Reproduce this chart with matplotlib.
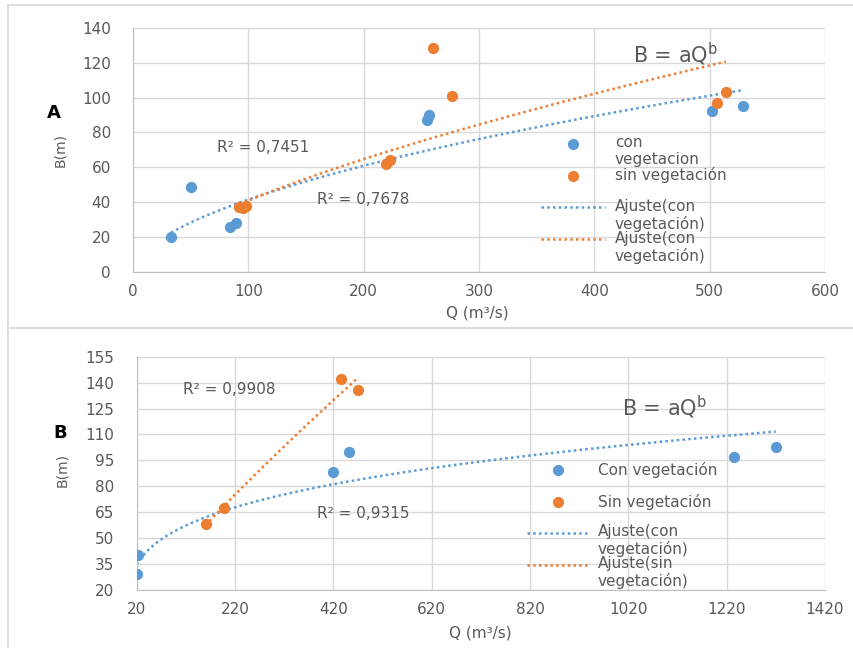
import numpy as np
import matplotlib
matplotlib.use("Agg")
import matplotlib.pyplot as plt
from matplotlib.lines import Line2D


BLUE = "#5B9BD5"
ORANGE = "#ED7D31"
GRID = "#D9D9D9"
TEXT = "#595959"
W, H = 854, 648

# panel A data (Q in m3/s, B in m)
a_con_q = [33, 50, 84, 89, 255, 257, 502, 529]
a_con_b = [20, 48.5, 25.5, 28, 87, 90, 92.5, 95]
a_sin_q = [92, 95, 98, 219, 223, 260, 277, 506, 514]
a_sin_b = [37, 36.5, 37.5, 62, 64, 128.5, 101, 97, 103.5]
a_xticks = [0, 100, 200, 300, 400, 500, 600]
a_yticks = [0, 20, 40, 60, 80, 100, 120, 140]
a_r2 = ["R² = 0,7451", "R² = 0,7678"]
a_labels = ["con\nvegetacion", "sin vegetación",
            "Ajuste(con\nvegetación)", "Ajuste(con\nvegetación)"]

# panel B data
b_con_q = [23, 20, 420, 452, 1235, 1320]
b_con_b = [40, 29.5, 88, 100, 97, 103]
b_sin_q = [160, 198, 435, 470]
b_sin_b = [58, 67.5, 142, 135.5]
b_xticks = [20, 220, 420, 620, 820, 1020, 1220, 1420]
b_yticks = [20, 35, 50, 65, 80, 95, 110, 125, 140, 155]
b_r2 = ["R² = 0,9908", "R² = 0,9315"]
b_labels = ["Con vegetación", "Sin vegetación",
            "Ajuste(con\nvegetación)", "Ajuste(sin\nvegetación)"]

plt.rcParams['font.family'] = ['DejaVu Sans']


def fpos(x, y):
    # pixel position in the picture -> figure fraction
    return x / W, 1 - y / H


def power_fit(ax, q, b, color):
    q = np.array(q, dtype=float)
    b = np.array(b, dtype=float)
    slope, icpt = np.polyfit(np.log(q), np.log(b), 1)
    qq = np.linspace(q.min(), q.max(), 200)
    ax.plot(qq, np.exp(icpt) * qq ** slope, color=color, ls=(0, (1, 1.3)),
            lw=1.8, zorder=2)


def setup_axes(ax, xticks, yticks):
    ax.set_xlim(xticks[0], xticks[-1])
    ax.set_ylim(yticks[0], yticks[-1])
    ax.set_xticks(xticks)
    ax.set_yticks(yticks)
    ax.grid(True, color=GRID, lw=1)
    ax.set_axisbelow(True)
    for s in ["top", "right"]:
        ax.spines[s].set_visible(False)
    for s in ["left", "bottom"]:
        ax.spines[s].set_color("#BFBFBF")
    ax.tick_params(length=0, labelsize=11, labelcolor=TEXT)
    ax.tick_params(axis="y", pad=16)
    ax.tick_params(axis="x", pad=9)


def legend_entries(fig, labels, hx0, hx1, tx, ys, first_y):
    # hand made legend so the spacing looks like the excel one
    for i, (lab, y) in enumerate(zip(labels, ys)):
        color = BLUE if i % 2 == 0 else ORANGE
        hy = first_y[i]
        if i < 2:
            x, yy = fpos((hx0 + hx1) / 2, hy)
            fig.add_artist(Line2D([x], [yy], marker="o", ms=7, color=color,
                                  ls="none"))
        else:
            x0, yy = fpos(hx0, hy)
            x1, _ = fpos(hx1, hy)
            fig.add_artist(Line2D([x0, x1], [yy, yy], color=color,
                                  ls=(0, (1, 1.3)), lw=1.8))
        x, yy = fpos(tx, y)
        fig.text(x, yy, lab, fontsize=11, color=TEXT, va="top", ha="left",
                 linespacing=1.15)


fig = plt.figure(figsize=(8.54, 6.48), dpi=100)

# frame lines of the two panels
for (x0, y0), (x1, y1) in [((8, 5), (8, 648)), ((8, 5), (854, 5)),
                           ((8, 328), (854, 328))]:
    p0 = fpos(x0, y0)
    p1 = fpos(x1, y1)
    fig.add_artist(Line2D([p0[0], p1[0]], [p0[1], p1[1]], color=GRID, lw=1.2))

# ---- panel A
axA = fig.add_axes([133 / W, 1 - 271.7 / H, (825 - 133) / W, (271.7 - 28) / H])
setup_axes(axA, a_xticks, a_yticks)
power_fit(axA, a_con_q, a_con_b, BLUE)
power_fit(axA, a_sin_q, a_sin_b, ORANGE)
axA.scatter(a_con_q, a_con_b, s=50, color=BLUE, zorder=3)
axA.scatter(a_sin_q, a_sin_b, s=50, color=ORANGE, zorder=3)

fig.text(*fpos(217, 147), a_r2[0], fontsize=11, color=TEXT, va="center")
fig.text(*fpos(317, 200), a_r2[1], fontsize=11, color=TEXT, va="center")
fig.text(*fpos(633, 54), r"B = aQ$^\mathregular{b}$", fontsize=15,
         color=TEXT, va="center")
fig.text(*fpos(54, 113), "A", fontsize=13, fontweight="bold", ha="center",
         va="center")
fig.text(*fpos(60, 150), "B(m)", fontsize=10, color=TEXT, rotation=90,
         ha="center", va="center")
fig.text(*fpos(477, 313), "Q (m³/s)", fontsize=11, color=TEXT,
         ha="center", va="center")
legend_entries(fig, a_labels, 541, 605, 615, [135, 167, 199, 231],
               [144, 176, 207, 239])

# ---- panel B
axB = fig.add_axes([136.7 / W, 1 - 590 / H, (825 - 136.7) / W,
                    (590 - 356.7) / H])
setup_axes(axB, b_xticks, b_yticks)
power_fit(axB, b_con_q, b_con_b, BLUE)
power_fit(axB, b_sin_q, b_sin_b, ORANGE)
axB.scatter(b_con_q, b_con_b, s=50, color=BLUE, zorder=3)
axB.scatter(b_sin_q, b_sin_b, s=50, color=ORANGE, zorder=3)

fig.text(*fpos(183, 390), b_r2[0], fontsize=11, color=TEXT, va="center")
fig.text(*fpos(317, 513), b_r2[1], fontsize=11, color=TEXT, va="center")
fig.text(*fpos(622, 407), r"B = aQ$^\mathregular{b}$", fontsize=15,
         color=TEXT, va="center")
fig.text(*fpos(60, 433), "B", fontsize=13, fontweight="bold", ha="center",
         va="center")
fig.text(*fpos(62, 470), "B(m)", fontsize=10, color=TEXT, rotation=90,
         ha="center", va="center")
fig.text(*fpos(480, 633), "Q (m³/s)", fontsize=11, color=TEXT,
         ha="center", va="center")
legend_entries(fig, b_labels, 527, 590, 598, [462, 494, 524, 556],
               [470, 502, 533, 565])

fig.savefig("out.png", dpi=100)
